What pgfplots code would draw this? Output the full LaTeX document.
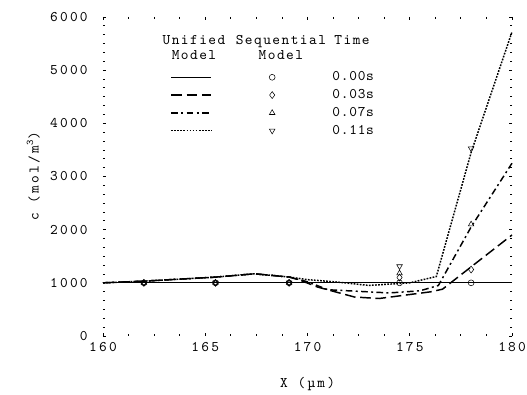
\documentclass[border=0pt]{standalone}
\usepackage{fontspec}
\usepackage{pgfplots}
\pgfplotsset{compat=1.18}
\pgfplotsset{
  lineleg/.style={legend image code/.code={\draw[##1] (0pt,0pt) -- (30pt,0pt);}},
}
\newfontfamily\lmA{lmmono10-regular.otf}[LetterSpace=10]
\newfontfamily\lmB{lmmono10-regular.otf}[LetterSpace=15]
\newfontfamily\lmC{lmmono10-regular.otf}[LetterSpace=5]
\newcommand\tfont{\lmA\fontsize{11}{11}\selectfont}
\newcommand\lfont{\lmB\fontsize{11}{13}\selectfont}
\newcommand\gfont{\lmC\fontsize{11}{11}\selectfont}
\begin{document}
\begin{tikzpicture}[font=\tfont]
\begin{axis}[
  name=ax,
  scale only axis, width=306.75pt, height=239.25pt,
  xmin=160, xmax=180, ymin=0, ymax=6000,
  xtick={160,165,...,180}, ytick={0,1000,...,6000},
  minor x tick num=3, minor y tick num=5,
  tick align=inside,
  major tick length=2.5pt, minor tick length=1.8pt,
  every tick/.style={black, line width=0.6pt},
  axis line style={draw=none},
  /pgf/number format/.cd, 1000 sep={}, assume math mode=true,
  /pgfplots/.cd,
  tick label style={font=\lfont},
  yticklabel style={xshift=-8pt},
  xticklabel style={yshift=-1pt},
  xlabel={X (µm)}, ylabel={c (mol/m\textsuperscript{3})},
  label style={font=\lfont},
  xlabel style={yshift=-12.5pt}, ylabel style={yshift=1pt},
  legend columns=2,
  legend style={draw=none, fill=none, at={(0.1545,0.846)}, anchor=north west,
    font=\gfont, row sep=1pt, column sep=0pt},
  clip=false,
]
% 0.00s
\addplot[black, line width=0.7pt, lineleg]
  coordinates {(160,1000) (180,1000)};
\addlegendentry{\hspace*{39pt}}
\addplot[only marks, mark=o, mark size=2.2pt, black, line width=0.4pt]
  coordinates {(162,1000) (165.5,1000) (169.1,1000) (174.5,1000) (178,1000)};
\addlegendentry{\hspace*{41pt}0.00s}
% 0.03s
\addplot[black, line width=1.1pt, dash pattern=on 8pt off 3.5pt, lineleg]
  coordinates {(160,1000) (162,1032) (165.5,1107) (167.4,1170) (169.1,1110) (169.7,1040) (170.5,920) (172.3,733) (173.5,705) (174.7,765) (176,830) (176.6,880) (178,1300) (180,1900)};
\addlegendentry{\hspace*{39pt}}
\addplot[only marks, mark=diamond, mark size=2.6pt, black, line width=0.4pt]
  coordinates {(162,1000) (165.5,1000) (169.1,1000) (174.5,1100) (178,1250)};
\addlegendentry{\hspace*{41pt}0.03s}
% 0.07s
\addplot[black, line width=1.1pt, dash pattern=on 5pt off 2.5pt on 1.5pt off 2.5pt, lineleg]
  coordinates {(160,1000) (162,1032) (165.5,1107) (167.4,1170) (169.1,1110) (170,1020) (171,870) (172.5,840) (174,810) (175.5,850) (176.4,950) (178,2050) (180,3250)};
\addlegendentry{\hspace*{39pt}}
\addplot[only marks, mark=triangle, mark size=2.4pt, black, line width=0.4pt]
  coordinates {(162,1000) (165.5,1000) (169.1,1000) (174.5,1180) (178,2100)};
\addlegendentry{\hspace*{41pt}0.07s}
% 0.11s
\addplot[black, line width=1.1pt, dash pattern=on 1.3pt off 1pt, lineleg]
  coordinates {(160,1000) (162,1032) (165.5,1107) (167.4,1170) (169.1,1110) (170,1060) (171.5,1013) (173,951) (175,1000) (176.3,1119) (178,3450) (180,5720)};
\addlegendentry{\hspace*{39pt}}
\addplot[only marks, mark=triangle, mark options={rotate=180}, mark size=2.4pt, black, line width=0.4pt]
  coordinates {(162,1000) (165.5,1000) (169.1,1000) (174.5,1310) (178,3526)};
\addlegendentry{\hspace*{41pt}0.11s}
\node[align=center, anchor=north, inner sep=0pt, font=\tfont] at (axis cs:164.45,5650) {Unified\\Model};
\node[align=center, anchor=north, inner sep=0pt, font=\tfont] at (axis cs:168.7,5650) {Sequential\\Model};
\node[anchor=north, inner sep=0pt, font=\tfont] at (axis cs:172.18,5650) {Time};
\end{axis}
\pgfresetboundingbox
\path[use as bounding box] ([xshift=-77.25pt,yshift=-44.25pt]ax.south west) rectangle ([xshift=11.25pt,yshift=12.75pt]ax.north east);
\end{tikzpicture}
\end{document}
